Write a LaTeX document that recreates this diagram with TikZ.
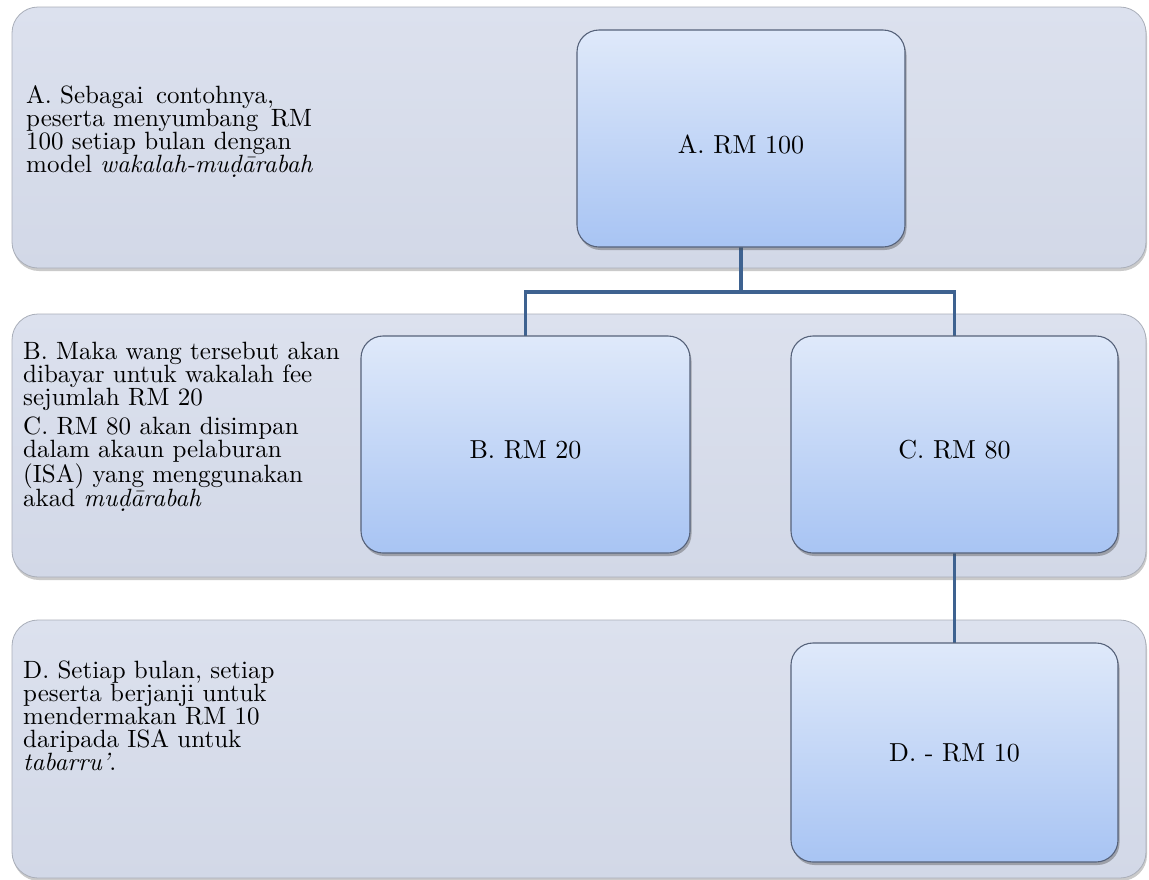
\documentclass[tikz,border=0pt]{standalone}
\usepackage{fontspec}
\setmainfont{lmroman10-regular.otf}[ItalicFont=lmroman10-italic.otf, BoldFont=lmroman10-bold.otf]
\usetikzlibrary{shadows}
\definecolor{bandfill}{HTML}{D2D8E7}
\definecolor{bandtop}{HTML}{DCE1EE}
\definecolor{bandline}{HTML}{A9AEB9}
\definecolor{boxtop}{HTML}{DFE9FA}
\definecolor{boxmid}{HTML}{CADBF7}
\definecolor{boxbot}{HTML}{A8C4F3}
\definecolor{boxline}{HTML}{56627A}
\definecolor{linkblue}{HTML}{3E6290}
\begin{document}
\begin{tikzpicture}[x=1pt,y=-1pt,
  band/.style={draw=bandline, line width=0.8pt, rounded corners=26pt,
    top color=bandtop, bottom color=bandfill,
    minimum width=1134pt, inner sep=0pt,
    drop shadow={shadow xshift=1pt, shadow yshift=-3pt, opacity=0.35, fill=black!60}},
  stepbox/.style={draw=boxline, line width=1.1pt, rounded corners=22pt,
    top color=boxtop, middle color=boxmid, bottom color=boxbot,
    minimum width=328pt, minimum height=217pt, inner sep=0pt,
    font=\fontsize{26}{23}\selectfont,
    drop shadow={shadow xshift=1.5pt, shadow yshift=-3pt, opacity=0.4, fill=black!70}},
  note/.style={anchor=west, align=left, inner sep=0pt,
    font=\fontsize{25}{23}\selectfont},
  link/.style={draw=linkblue, line width=3.5pt}
]
\useasboundingbox (0,0) rectangle (1149,879);

% background bands
\node[band, minimum height=261pt] (bandA) at (579,137.5) {};
\node[band, minimum height=263pt] (bandB) at (579,445.5) {};
\node[band, minimum height=258pt] (bandC) at (579,749) {};

% explanatory texts
\node[note] (noteA) at (26,132) {A. Sebagai\, contohnya,\\
peserta menyumbang\, RM\\
100 setiap bulan dengan\\
model \textit{wakalah-muḍārabah}};
\node[note] (noteB) at (23,427) {B. Maka wang tersebut akan\\
dibayar untuk wakalah fee\\
sejumlah RM 20\\[6pt]
C. RM 80 akan disimpan\\
dalam akaun pelaburan\\
(ISA) yang menggunakan\\
akad \textit{muḍārabah}};
\node[note] (noteD) at (23,716) {D. Setiap bulan, setiap\\
peserta berjanji untuk\\
mendermakan RM 10\\
daripada ISA untuk\\
\textit{tabarru’}.};

% connectors
\coordinate (split) at (741,292);
\draw[link] (741,247) -- (split);
\draw[link] (525.5,340) |- (split) -| (954.5,340);
\draw[link] (954.5,550) -- (954.5,646);

% amount boxes
\node[stepbox, text height=30pt, text depth=0pt] (boxA) at (741,138.5) {A. RM 100};
\node[stepbox, minimum width=329pt, text height=28pt, text depth=0pt] (boxB) at (525.5,444.5) {B. RM 20};
\node[stepbox, minimum width=327pt, text height=28pt, text depth=0pt] (boxC) at (954.5,444.5) {C. RM 80};
\node[stepbox, minimum width=327pt, minimum height=219pt] (boxD) at (954.5,752.5) {D. - RM 10};
\end{tikzpicture}
\end{document}
